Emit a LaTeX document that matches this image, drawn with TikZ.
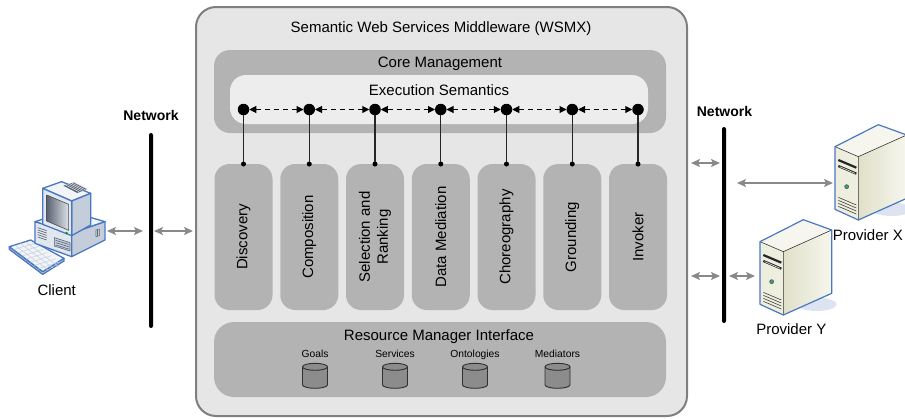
\documentclass[tikz,border=0pt]{standalone}
\usepackage{fontspec}
\setmainfont{Liberation Sans}
\usetikzlibrary{arrows.meta}

\definecolor{shellfill}{HTML}{E6E6E6}
\definecolor{shelldraw}{HTML}{7F7F7F}
\definecolor{layerfill}{HTML}{B3B3B3}
\definecolor{execfill}{HTML}{EDEDED}
\definecolor{linkgray}{HTML}{898989}
\definecolor{cylfill}{HTML}{8C8C8C}
\definecolor{cyldraw}{HTML}{2F2F2F}
\definecolor{iconblue}{HTML}{4A78C0}
\definecolor{pcfront}{HTML}{E1E7EF}
\definecolor{pcside}{HTML}{C4CEDB}
\definecolor{pctop}{HTML}{F1F4F8}
\definecolor{pcdark}{HTML}{5A6472}
\definecolor{pcscreen}{HTML}{DDE2E9}
\definecolor{srvfront}{HTML}{EEEEDF}
\definecolor{srvside}{HTML}{E0E0C9}
\definecolor{srvtop}{HTML}{F6F6EE}
\definecolor{srvshadow}{HTML}{DCE4F2}
\definecolor{srvled}{HTML}{3E9C8C}

\newcommand{\txtmain}{\fontsize{15}{18}\selectfont}
\newcommand{\txtsmall}{\fontsize{10.3}{12}\selectfont}
\newcommand{\txtnet}{\fontsize{14}{16}\selectfont\bfseries}

\tikzset{
  % desktop client: keyboard, system unit and monitor
  desktop/.pic={
    \begin{scope}[scale=1/3, line join=round, pcline/.style={draw=iconblue, line width=1.3pt}]
      % keyboard
      \filldraw[pcline, fill=pcside] (28,215) -- (128,290) -- (192,250) -- (192,258) -- (128,298) -- (28,223) -- cycle;
      \filldraw[pcline, fill=pctop] (28,215) -- (92,195) -- (192,250) -- (128,290) -- cycle;
      \foreach \b in {0.25,0.5,0.75}
        \draw[pcside, line width=0.5pt] (28+64*\b,215-20*\b) -- (128+64*\b,290-20*\b);
      \foreach \a in {0.125,0.25,...,0.875}
        \draw[pcside, line width=0.5pt] (28+100*\a,215+75*\a) -- (92+100*\a,195+75*\a);
      % system unit
      \filldraw[pcline, fill=pctop] (105,140) -- (205,108) -- (315,140) -- (215,175) -- cycle;
      \filldraw[pcline, fill=pcfront] (105,140) -- (215,175) -- (215,245) -- (105,205) -- cycle;
      \filldraw[pcline, fill=pcside] (215,175) -- (315,140) -- (315,195) -- (215,245) -- cycle;
      \foreach \k in {0,...,4}
        \draw[pcdark, line width=0.6pt] (113,158+7*\k) -- (140,167+7*\k);
      \filldraw[draw=pcdark, fill=pcside, line width=0.6pt] (163,188) -- (210,203) -- (210,228) -- (163,213) -- cycle;
      \foreach \k in {0,1,2}
        \draw[pcdark, line width=0.6pt] (167,196+7*\k) -- (206,208+7*\k);
      \draw[pcdark, line width=0.5pt] (288,165) -- (298,162) -- (298,182) -- (288,185) -- cycle;
      \draw[pcdark, line width=0.5pt] (293,164) -- (293,183);
      % monitor
      \filldraw[pcline, fill=pctop] (128,40) -- (185,20) -- (272,55) -- (215,78) -- cycle;
      \filldraw[pcline, fill=pcside] (215,78) -- (272,55) -- (272,150) -- (215,182) -- cycle;
      \filldraw[pcline, fill=pcfront] (128,40) -- (215,78) -- (215,182) -- (128,148) -- cycle;
      \fill[pcdark] (190,32) -- (222,22) -- (262,42) -- (232,54) -- cycle;
      \foreach \k in {0,...,5}
        \draw[pctop, line width=0.4pt] (197+6*\k,30-2*\k) -- (237+6*\k,50-2*\k);
      \shade[left color=pcdark, right color=pcscreen, draw=black!70, line width=0.6pt]
        (140,60) -- (206,88) -- (206,166) -- (140,138) -- cycle;
      \fill[green!60!black] (200,174) circle[radius=4pt];
    \end{scope}
  },
  % tower server with its floor shadow
  tower/.pic={
    \begin{scope}[scale=1/3, line join=round]
      \fill[srvshadow] (200,268) ellipse[x radius=60pt, y radius=20pt];
      \shade[left color=srvside, right color=srvtop] (100,110) -- (245,45) -- (245,235) -- (100,300) -- cycle;
      \fill[srvfront] (30,80) -- (100,110) -- (100,300) -- (30,268) -- cycle;
      \fill[srvtop] (30,80) -- (160,14) -- (245,45) -- (100,110) -- cycle;
      \draw[black!80, line width=0.6pt] (30,80) -- (100,110) -- (245,45) (100,110) -- (100,300);
      \draw[black!85, line width=2.2pt] (40,120) -- (94,143);
      \draw[black!85, line width=2.2pt] (40,138) -- (94,161);
      \draw[white, line width=0.5pt] (44,140) -- (90,160);
      \filldraw[fill=srvled, draw=black!70, line width=0.5pt] (65,200) circle[radius=6pt];
      \foreach \k in {0,...,3}
        \draw[black!75, line width=0.6pt] (40,232+9*\k) -- (94,255+9*\k);
      \draw[iconblue, line width=1.2pt] (30,80) -- (160,14) -- (245,45) -- (245,235) -- (100,300) -- (30,268) -- cycle;
    \end{scope}
  },
  % database cylinder of the resource manager
  store/.pic={
    \filldraw[fill=cylfill, draw=cyldraw, line width=0.9pt]
      (-12.5,-9) -- (-12.5,9) arc[start angle=180, end angle=360, x radius=12.5pt, y radius=3.5pt]
      -- (12.5,-9) arc[start angle=0, end angle=180, x radius=12.5pt, y radius=3.5pt] -- cycle;
    \draw[cyldraw, line width=0.9pt] (-12.5,-9) arc[start angle=180, end angle=360, x radius=12.5pt, y radius=3.5pt];
  }
}

\begin{document}
\begin{tikzpicture}[x=1pt, y=-1pt,
  panel/.style={inner sep=0pt, outer sep=0pt},
  layer/.style={panel, fill=layerfill},
  module/.style={layer, rounded corners=15pt, minimum width=58pt, minimum height=146pt},
  bigdot/.style={circle, fill=black, inner sep=0pt, outer sep=0pt, minimum size=11.5pt},
  tinydot/.style={circle, fill=black, inner sep=0pt, outer sep=0pt, minimum size=5pt},
  flow/.style={line width=1pt, dash pattern=on 5pt off 4pt,
    {Triangle[length=7pt,width=7pt]}-{Triangle[length=7pt,width=7pt]}},
  hook/.style={line width=1.3pt, draw=black!85},
  link/.style={draw=linkgray, line width=2pt,
    {Stealth[length=9pt,width=8pt,inset=2pt]}-{Stealth[length=9pt,width=8pt,inset=2pt]}},
  netbar/.style={fill=black, inner sep=0pt, outer sep=0pt, minimum width=4pt, rounded corners=2pt},
  txt/.style={inner sep=0pt, anchor=base, font=\txtmain},
  vtxt/.style={inner sep=0pt, rotate=90, font=\txtmain, align=center},
  nettxt/.style={inner sep=0pt, anchor=base, font=\txtnet},
  dbtxt/.style={inner sep=0pt, anchor=base, font=\txtsmall}]

\useasboundingbox (0,0) rectangle (905,418);

% middleware shell and its layers
\node[panel, fill=shellfill, draw=shelldraw, line width=2pt, rounded corners=20pt,
      minimum width=491pt, minimum height=409pt] (wsmx) at (441.5,211.5) {};
\node[txt] (wsmxtitle) at (441,32.5) {Semantic Web Services Middleware (WSMX)};

\node[layer, rounded corners=16pt, minimum width=452pt, minimum height=83pt] (core) at (440,91.5) {};
\node[txt] (coretitle) at (440,67.7) {Core Management};
\node[panel, fill=execfill, rounded corners=16pt, minimum width=418pt, minimum height=49pt] (exec) at (439,99.5) {};
\node[txt] (exectitle) at (439,95.7) {Execution Semantics};

% components
\foreach \i/\t in {1/Discovery, 2/Composition, 3/{Selection and\\Ranking}, 4/Data Mediation,
                   5/Choreography, 6/Grounding, 7/Invoker} {
  \pgfmathsetmacro{\cx}{243.5+65.75*(\i-1)}
  \node[module] (m\i) at (\cx,237) {};
  \node[vtxt] (mt\i) at (m\i.center) {\t};
  \node[bigdot] (e\i) at (\cx,109.5) {};
  \node[tinydot] (p\i) at (m\i.north) {};
  \draw[hook] (e\i) -- (p\i);
}
\foreach \i [evaluate=\i as \j using int(\i+1)] in {1,...,6}
  \draw[flow] (e\i) -- (e\j);

% resource manager with its stores
\node[layer, rounded corners=20pt, minimum width=452pt, minimum height=75pt] (rmi) at (440,359.5) {};
\node[txt] (rmititle) at (439,340.4) {Resource Manager Interface};
\foreach \n/\x/\t in {goals/315/Goals, services/395/Services, ontologies/475/Ontologies, mediators/557.5/Mediators} {
  \node[dbtxt] (\n-label) at (\x,357.7) {\t};
  \pic (\n) at (\x,375.8) {store};
}

% client side
\pic (client) at (0,175) {desktop};
\node[txt] (clienttxt) at (56.7,295) {Client};
\node[netbar, minimum height=195pt] (netL) at (151,230.5) {};
\node[nettxt] (netLtxt) at (151,120) {Network};
\coordinate (clientport) at (107,231);
\draw[link, shorten >=6pt] (clientport) -- (clientport -| netL.west);
\draw[link, shorten <=1pt, shorten >=3pt] (clientport -| netL.east) -- (clientport -| wsmx.west);

% provider side
\node[netbar, minimum height=196pt] (netR) at (724,225) {};
\node[nettxt] (netRtxt) at (724.5,116) {Network};
\pic (provx) at (825,120) {tower};
\pic (provy) at (750,215) {tower};
\node[txt] (provxtxt) at (867.8,240) {Provider X};
\node[txt] (provytxt) at (791.3,334) {Provider Y};
\coordinate (wsmxportA) at (687,163);
\coordinate (wsmxportB) at (687,276);
\coordinate (provxport) at (833,183);
\coordinate (provyport) at (755,276);
\draw[link, shorten <=4pt, shorten >=2pt] (wsmxportA) -- (wsmxportA -| netR.west);
\draw[link, shorten <=4pt, shorten >=2pt] (wsmxportB) -- (wsmxportB -| netR.west);
\draw[link, shorten <=11pt] (provxport -| netR.east) -- (provxport);
\draw[link, shorten <=3pt] (provyport -| netR.east) -- (provyport);

\end{tikzpicture}
\end{document}
